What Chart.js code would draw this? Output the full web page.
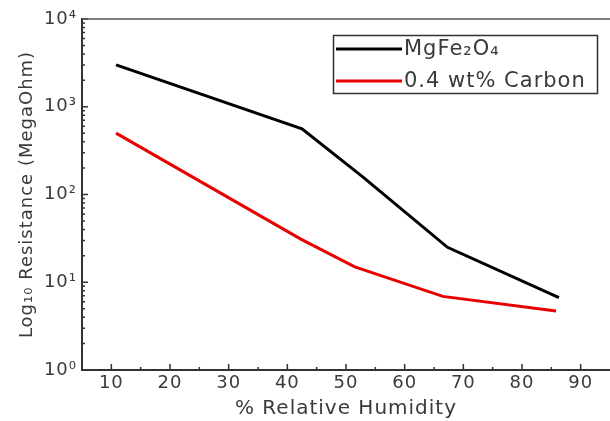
<!DOCTYPE html>
<html>
<head>
<meta charset="utf-8">
<script src="https://cdn.jsdelivr.net/npm/chart.js@4.4.0/dist/chart.umd.min.js"></script>
<style>
  html, body { margin: 0; padding: 0; background: #fff; }
  #wrap { width: 610px; height: 421px; }
</style>
</head>
<body>
<div id="wrap"><canvas id="c" width="610" height="421"></canvas></div>
<script>
// ── DATA ────────────────────────────────────────────────────
const humidityPure     = [10.8, 42.5, 52.8, 67.3, 86.3];
const resistancePure   = [3000, 560, 160, 25, 6.7];
const humidityCarbon   = [10.8, 42.3, 51.5, 66.5, 85.8];
const resistanceCarbon = [500, 31, 15, 6.9, 4.7];
const seriesLabels = ['MgFe₂O₄', '0.4 wt% Carbon'];
const seriesColors = ['#000000', '#e80000'];

const xTicks      = [10, 20, 30, 40, 50, 60, 70, 80, 90];
const xMinorTicks = [15, 25, 35, 45, 55, 65, 75, 85];
const yTicks      = [1, 10, 100, 1000, 10000];
const supers      = ['⁰', '¹', '²', '³', '⁴'];

const axisColor = '#333', textColor = '#3a3a3a';
const font = '"DejaVu Sans", sans-serif';

// ── PLUGINS ─────────────────────────────────────────────────
const spacing = {
  id: 'spacing',
  beforeDraw(chart) { chart.ctx.letterSpacing = '1px'; }
};

// ticks drawn inside the frame + top frame line
const innerTicks = {
  id: 'innerTicks',
  afterDraw(chart) {
    const { ctx, chartArea: a, scales: { x, y } } = chart;
    ctx.letterSpacing = '0px';
    ctx.save();
    ctx.strokeStyle = axisColor;
    ctx.lineWidth = 1.5;
    ctx.beginPath();
    xTicks.forEach(v => { const p = x.getPixelForValue(v); ctx.moveTo(p, a.bottom); ctx.lineTo(p, a.bottom - 6); });
    xMinorTicks.forEach(v => { const p = x.getPixelForValue(v); ctx.moveTo(p, a.bottom); ctx.lineTo(p, a.bottom - 3); });
    yTicks.forEach((d, i) => {
      const p = y.getPixelForValue(d);
      ctx.moveTo(a.left, p); ctx.lineTo(a.left + 6, p);
      if (i < yTicks.length - 1) {
        for (let m = 2; m < 10; m++) {
          const q = y.getPixelForValue(d * m);
          ctx.moveTo(a.left, q); ctx.lineTo(a.left + 3, q);
        }
      }
    });
    ctx.stroke();
    ctx.beginPath();
    ctx.strokeStyle = '#555';
    ctx.lineWidth = 1.5;
    ctx.moveTo(a.left, a.top); ctx.lineTo(a.right, a.top);
    ctx.stroke();
    ctx.restore();
  }
};

// boxed legend inside the plot
const boxLegend = {
  id: 'boxLegend',
  afterDraw(chart) {
    const ctx = chart.ctx;
    ctx.save();
    ctx.strokeStyle = axisColor;
    ctx.lineWidth = 1.5;
    ctx.strokeRect(333.5, 35.5, 264, 58);
    ctx.font = '21px ' + font;
    ctx.letterSpacing = '1px';
    ctx.textBaseline = 'middle';
    ctx.fillStyle = textColor;
    chart.data.datasets.forEach((ds, i) => {
      const yy = 49 + i * 32;
      ctx.strokeStyle = ds.borderColor;
      ctx.lineWidth = 3;
      ctx.beginPath(); ctx.moveTo(336, yy); ctx.lineTo(402, yy); ctx.stroke();
      ctx.fillText(ds.label, 404, yy + 1);
    });
    ctx.restore();
  }
};

// ── CHART ───────────────────────────────────────────────────
new Chart(document.getElementById('c'), {
  type: 'line',
  data: {
    datasets: [
      {
        label: seriesLabels[0],
        data: humidityPure.map((h, i) => ({ x: h, y: resistancePure[i] })),
        borderColor: seriesColors[0], borderWidth: 3, pointRadius: 0, tension: 0
      },
      {
        label: seriesLabels[1],
        data: humidityCarbon.map((h, i) => ({ x: h, y: resistanceCarbon[i] })),
        borderColor: seriesColors[1], borderWidth: 3, pointRadius: 0, tension: 0
      }
    ]
  },
  options: {
    responsive: false,
    animation: false,
    layout: { padding: { top: 19, right: 0, bottom: 0, left: 0 } },
    plugins: { legend: { display: false }, tooltip: { enabled: false } },
    scales: {
      x: {
        type: 'linear', min: 5, max: 95,
        afterBuildTicks: s => { s.ticks = xTicks.map(v => ({ value: v })); },
        afterFit: s => { s.height = 51; },
        grid: { display: false, drawTicks: false },
        border: { color: axisColor, width: 2 },
        ticks: { color: textColor, font: { family: font, size: 18 }, padding: 3, autoSkip: false, maxRotation: 0 },
        title: { display: true, text: '% Relative Humidity', color: textColor,
                 font: { family: font, size: 20 }, padding: { top: 0, bottom: 0 } }
      },
      y: {
        type: 'logarithmic', min: 1, max: 10000,
        afterBuildTicks: s => { s.ticks = yTicks.map(v => ({ value: v })); },
        afterFit: s => { s.width = 82; },
        grid: { display: false, drawTicks: false },
        border: { color: axisColor, width: 2 },
        ticks: { color: textColor, font: { family: font, size: 18 }, padding: 5, autoSkip: false,
                 callback: v => '10' + supers[Math.round(Math.log10(v))] },
        title: { display: true, text: 'Log₁₀ Resistance (MegaOhm)', color: textColor,
                 font: { family: font, size: 18 }, padding: { top: 17, bottom: 0 } }
      }
    }
  },
  plugins: [spacing, innerTicks, boxLegend]
});
</script>
</body>
</html>
